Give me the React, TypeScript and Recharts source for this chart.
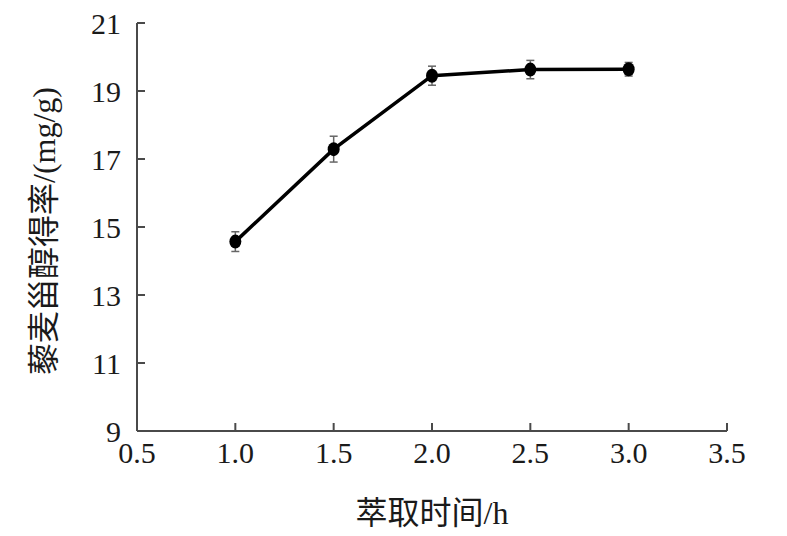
import React from 'react';
import { LineChart, Line, XAxis, YAxis, ErrorBar, Label } from 'recharts';

const extractionTimes = [1.0, 1.5, 2.0, 2.5, 3.0];
const sterolYields = [14.57, 17.29, 19.45, 19.63, 19.64];
const yieldErrors = [0.29, 0.38, 0.28, 0.27, 0.2];
const xTicks = [0.5, 1.0, 1.5, 2.0, 2.5, 3.0, 3.5];
const yTicks = [9, 11, 13, 15, 17, 19, 21];
const xTitle = '萃取时间/h';
const yTitle = '藜麦甾醇得率/(mg/g)';

const data = extractionTimes.map((t, i) => ({
  time: t,
  value: sterolYields[i],
  err: yieldErrors[i],
}));

const FONT = '"Liberation Serif", "Times New Roman", "Noto Sans CJK SC", serif';
const AXIS_COLOR = '#4a4a4a';

const Dot = (p: any) => (
  <ellipse key={`d-${p.index}`} cx={p.cx} cy={p.cy} rx={6} ry={7} fill="#000" />
);

export default function App() {
  return (
    <div style={{ position: 'absolute', left: 0, top: 0, width: 787, height: 536, background: '#fff' }}>
      <LineChart
        width={787}
        height={536}
        data={data}
        margin={{ top: 23, right: 60, bottom: 0, left: 0 }}
      >
        <XAxis
          dataKey="time"
          type="number"
          domain={[0.5, 3.5]}
          ticks={xTicks}
          tickFormatter={(v: number) => v.toFixed(1)}
          height={105}
          tickSize={-8}
          tickMargin={19}
          stroke={AXIS_COLOR}
          strokeWidth={2}
          tick={{ fontSize: 30, fontFamily: FONT, fill: '#1a1a1a' }}
          interval={0}
        >
          <Label
            content={(props: any) => {
              const vb = props.viewBox;
              return (
                <text
                  x={vb.x + vb.width / 2}
                  y={vb.y + vb.height - 12}
                  textAnchor="middle"
                  fontSize={32}
                  fontFamily={FONT}
                  fill="#1a1a1a"
                >
                  {xTitle}
                </text>
              );
            }}
          />
        </XAxis>
        <YAxis
          type="number"
          domain={[9, 21]}
          ticks={yTicks}
          width={137}
          tickSize={-8}
          tickMargin={24}
          stroke={AXIS_COLOR}
          strokeWidth={2}
          tick={{ fontSize: 30, fontFamily: FONT, fill: '#1a1a1a' }}
          interval={0}
        >
          <Label
            content={(props: any) => {
              const vb = props.viewBox;
              const cx = vb.x + 55;
              const cy = vb.y + vb.height / 2 + 4;
              return (
                <text
                  x={cx}
                  y={cy}
                  textAnchor="middle"
                  fontSize={32}
                  fontFamily={FONT}
                  fill="#1a1a1a"
                  transform={`rotate(-90, ${cx}, ${cy})`}
                >
                  {yTitle}
                </text>
              );
            }}
          />
        </YAxis>
        <Line
          type="linear"
          dataKey="value"
          stroke="#000"
          strokeWidth={3.5}
          dot={Dot}
          activeDot={false}
          isAnimationActive={false}
        >
          <ErrorBar dataKey="err" direction="y" width={4} stroke="#666" strokeWidth={1.5} />
        </Line>
      </LineChart>
    </div>
  );
}
